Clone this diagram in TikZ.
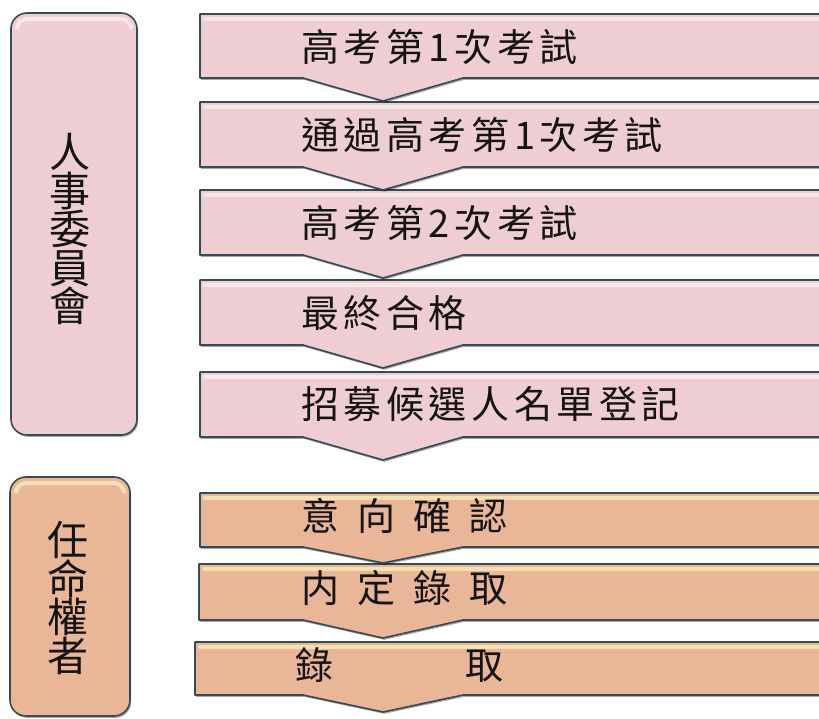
\documentclass[tikz,border=0pt]{standalone}
\usepackage{fontspec}
\newfontfamily\cjk{Noto Sans CJK TC}
\newfontfamily\cjksp[LetterSpace=12]{Noto Sans CJK TC}
\usetikzlibrary{shadows}
\definecolor{pinkbox}{RGB}{239,206,211}
\definecolor{pinktop}{RGB}{250,234,236}
\definecolor{orbox}{RGB}{234,182,152}
\definecolor{ortop}{RGB}{248,228,180}
\definecolor{edgec}{RGB}{55,75,85}
\definecolor{inkc}{RGB}{20,20,20}
\tikzset{
  x=1pt, y=-1pt,
  shapebase/.style={draw=edgec, line width=1.6pt, line join=round,
    drop shadow={shadow xshift=1.2pt, shadow yshift=-1.8pt, opacity=0.35, fill=black}},
  pinkshape/.style={shapebase, fill=pinkbox},
  orshape/.style={shapebase, fill=orbox},
  pinkhl/.style={draw=pinktop, line width=4pt, line cap=round, opacity=0.9},
  orhl/.style={draw=ortop, line width=4pt, line cap=round, opacity=0.9},
  steptext/.style={anchor=west, inner sep=0pt, text=inkc, font=\cjksp\fontsize{38}{40}\selectfont},
  stepplain/.style={anchor=west, inner sep=0pt, text=inkc, font=\cjk\fontsize{38}{40}\selectfont},
  paneltext/.style={inner sep=0pt, align=center, text=inkc, font=\cjk\fontsize{41}{38.5}\selectfont},
}
% #1 left, #2 top, #3 bottom, #4 point, #5 shape style, #6 highlight style
\newcommand{\chevbox}[6]{%
  \path[#5] (#1,#2) -- (830,#2) -- (830,#3) -- (463,#3) -- (383,#4) -- (303,#3) -- (#1,#3) -- cycle;
  \path[#6] (#1+5,#2+4.5) -- (830,#2+4.5);}
\begin{document}
\begin{tikzpicture}
\useasboundingbox (0,0) rectangle (819,718);
\fill[white] (0,0) rectangle (819,718);
\clip (0,0) rectangle (819,718);

% left panels
\path[pinkshape, rounded corners=16pt] (11,13) rectangle (137,435);
\path[pinkhl, rounded corners=10pt] (17,26) -- (17,19) -- (131,19) -- (131,26);
\path[orshape, rounded corners=16pt] (10,477) rectangle (130,716);
\path[orhl, rounded corners=10pt] (16,490) -- (16,483) -- (124,483) -- (124,490);

% step boxes (drawn bottom to top so each point overlaps the next box)
\chevbox{195}{642}{695}{712}{orshape}{orhl}
\chevbox{199}{564}{620}{638}{orshape}{orhl}
\chevbox{200}{493}{547}{563}{orshape}{orhl}
\chevbox{200}{372}{437}{460}{pinkshape}{pinkhl}
\chevbox{200}{280}{345}{368}{pinkshape}{pinkhl}
\chevbox{200}{190}{255}{278}{pinkshape}{pinkhl}
\chevbox{200}{102}{167}{190}{pinkshape}{pinkhl}
\chevbox{200}{14}{78}{101}{pinkshape}{pinkhl}

% panel texts
\node[paneltext] (jinji) at (70,229) {人\\事\\委\\員\\會};
\node[paneltext] (ninmei) at (68,598) {任\\命\\權\\者};

% step texts
\node[steptext] (s1) at (301,47) {高考第1次考試};
\node[steptext] (s2) at (301,135) {通過高考第1次考試};
\node[steptext] (s3) at (301,223) {高考第2次考試};
\node[steptext] (s4) at (301,313) {最終合格};
\node[steptext] (s5) at (301,404) {招募候選人名單登記};
\node[stepplain] (s6) at (301,516) {意\hspace{18pt}向\hspace{18pt}確\hspace{18pt}認};
\node[stepplain] (s7) at (301,588) {内\hspace{18pt}定\hspace{18pt}錄\hspace{18pt}取};
\node[stepplain] (s8) at (295,665) {錄\hspace{132pt}取};
\end{tikzpicture}
\end{document}
